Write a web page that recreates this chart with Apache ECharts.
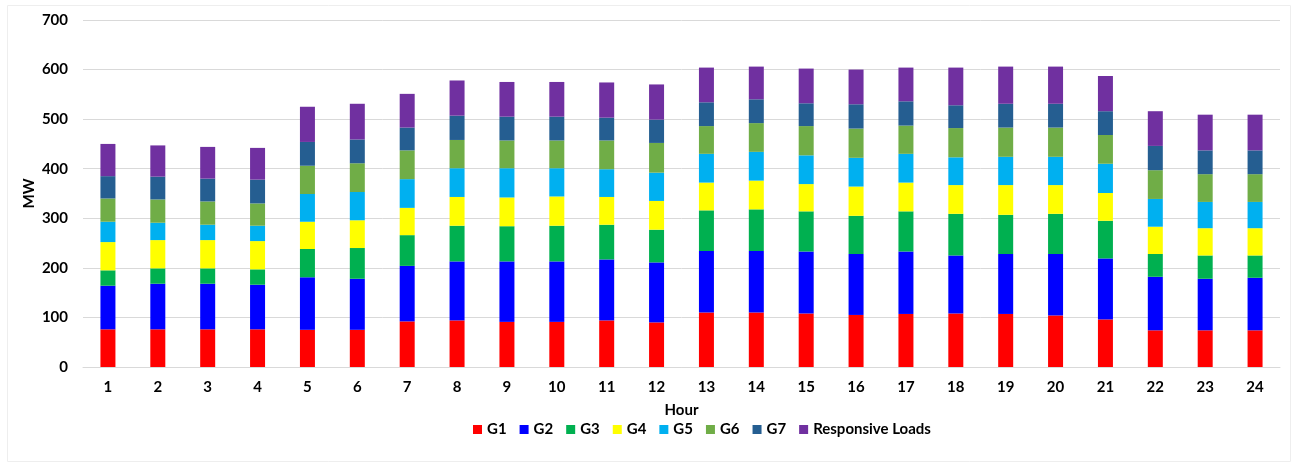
<!DOCTYPE html>
<html>
<head>
<meta charset="utf-8">
<script src="https://cdn.jsdelivr.net/npm/echarts@6/dist/echarts.min.js"></script>
<style>
html,body{margin:0;padding:0;background:#fff;}
#c{width:1292px;height:463px;}
</style>
</head>
<body>
<div id="c"></div>
<script>
const hours = ['1','2','3','4','5','6','7','8','9','10','11','12','13','14','15','16','17','18','19','20','21','22','23','24'];
const yTicks = [0,100,200,300,400,500,600,700];
const G1 = [76,76,76,76,75,75,92,94,91,91,94,90,110,110,108,105,107,108,107,104,96,74,74,74];
const G2 = [88,92,92,90,106,103,112,119,122,122,123,121,124,124,125,123,126,117,121,124,123,108,104,106];
const G3 = [31,31,31,31,57,62,62,72,71,72,70,66,82,84,81,77,81,84,79,81,76,46,47,45];
const G4 = [57,57,57,57,55,56,55,58,58,59,56,58,56,58,55,59,58,58,60,58,56,55,55,55];
const G5 = [41,35,31,31,56,57,58,58,59,57,56,57,58,58,58,58,58,56,57,57,59,56,53,53];
const G6 = [47,47,47,45,57,58,58,57,56,56,58,60,56,58,59,59,57,59,59,59,58,58,56,56];
const G7 = [45,46,46,48,48,48,46,49,48,48,46,47,48,48,46,49,49,46,48,48,48,49,48,48];
const RL = [65,63,64,64,71,72,68,71,70,70,71,71,70,66,70,70,68,76,75,75,71,70,72,72];

const names = ['G1','G2','G3','G4','G5','G6','G7','Responsive Loads'];
const colors = ['#FF0000','#0000FF','#00B050','#FFFF00','#00B0F0','#70AD47','#255E91','#7030A0'];
const data = [G1,G2,G3,G4,G5,G6,G7,RL];

const font = 'Lato, "Liberation Sans", sans-serif';
const txt = {fontFamily:font,fontWeight:'bold',fontSize:15,color:'#000'};
const chart = echarts.init(document.getElementById('c'), null, {renderer:'canvas'});
chart.setOption({
  animation:false,
  backgroundColor:'#fff',
  graphic:[{type:'rect',shape:{x:7.5,y:5.5,width:1283,height:456},style:{fill:'none',stroke:'#EEEEEE',lineWidth:1},silent:true}],
  grid:{left:83,right:12,top:20,bottom:96},
  legend:{
    data:names, top:417, left:468,
    icon:'rect', itemWidth:9, itemHeight:9, itemGap:13,
    textStyle:txt
  },
  xAxis:{
    type:'category', data:hours,
    name:'Hour', nameLocation:'middle', nameGap:36,
    nameTextStyle:txt,
    axisTick:{show:false},
    axisLine:{lineStyle:{color:'#D9D9D9'}},
    axisLabel:Object.assign({margin:13},txt)
  },
  yAxis:{
    type:'value', min:yTicks[0], max:yTicks[yTicks.length-1], interval:100,
    name:'MW', nameLocation:'middle', nameGap:46, nameRotate:90, nameMoveOverlap:false,
    nameTextStyle:txt,
    axisLine:{show:false}, axisTick:{show:false},
    splitLine:{lineStyle:{color:'#D9D9D9'}},
    axisLabel:Object.assign({margin:15},txt)
  },
  series: names.map((n,i)=>({
    name:n, type:'bar', stack:'total', barWidth:15,
    itemStyle:{color:colors[i]},
    data:data[i]
  }))
});
</script>
</body>
</html>
